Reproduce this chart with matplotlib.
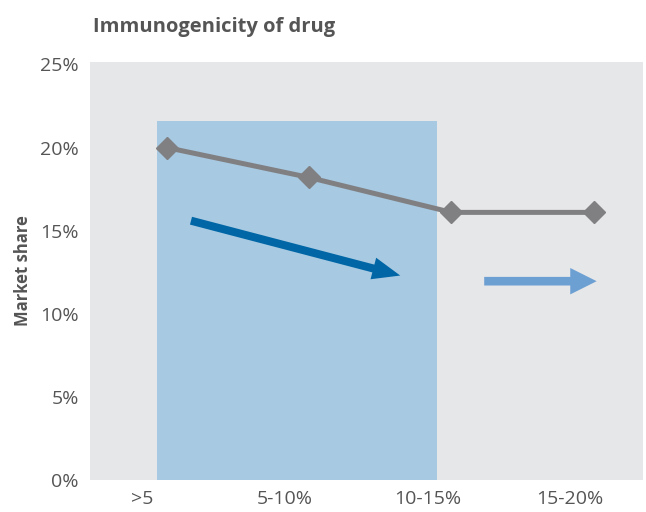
import numpy as np
import matplotlib.pyplot as plt

categories = [">5", "5-10%", "10-15%", "15-20%"]
share = [20.0, 18.2, 16.1, 16.1]
highlight_height = 21.6
arrow_dark = [(0.17, 15.6), (1.64, 12.3)]
arrow_light = [(2.23, 11.96), (3.02, 11.96)]
yticks = [0, 5, 10, 15, 20, 25]

plt.rcParams['font.family'] = ['Open Sans', 'DejaVu Sans']

fig = plt.figure(figsize=(6.46, 5.12), dpi=100)
ax = fig.add_axes([0.139, 0.0625, 0.856, 0.8165])
ax.set_facecolor("#e6e7e9")

x = np.arange(len(categories))

# shaded block behind the first categories
ax.bar(-0.07, highlight_height, width=1.967, align='edge', color="#a7c9e1", zorder=1)

ax.plot(x, share, color="#808083", lw=3.6, marker='D', ms=11.5, zorder=3)

ax.annotate("", xy=arrow_dark[1], xytext=arrow_dark[0],
            arrowprops=dict(arrowstyle="simple,head_length=20,head_width=16,tail_width=5.8",
                            mutation_scale=1, color="#0066a6", shrinkA=0, shrinkB=0, lw=0))
ax.annotate("", xy=arrow_light[1], xytext=arrow_light[0],
            arrowprops=dict(arrowstyle="simple,head_length=19,head_width=19,tail_width=6.2",
                            mutation_scale=1, color="#6c9fd2", shrinkA=0, shrinkB=0, lw=0))

ax.set_xlim(-0.541, 3.344)
ax.set_ylim(0, 25.15)
ax.set_yticks(yticks)
ax.set_yticklabels([f"{t}%" for t in yticks])
ax.set_xticks(x - 0.17)
ax.set_xticklabels(categories)
ax.tick_params(length=0, labelsize=14, colors="#555555")
ax.tick_params(axis='y', pad=8)
ax.tick_params(axis='x', pad=7)
for s in ax.spines.values():
    s.set_visible(False)

ax.set_ylabel("Market share", fontsize=12, fontweight='bold', color="#555555", labelpad=6)
fig.text(0.144, 0.948, "Immunogenicity of drug", fontsize=14.5, fontweight='bold',
         color="#555555", va='center', ha='left')

plt.savefig("out.png", dpi=100)
